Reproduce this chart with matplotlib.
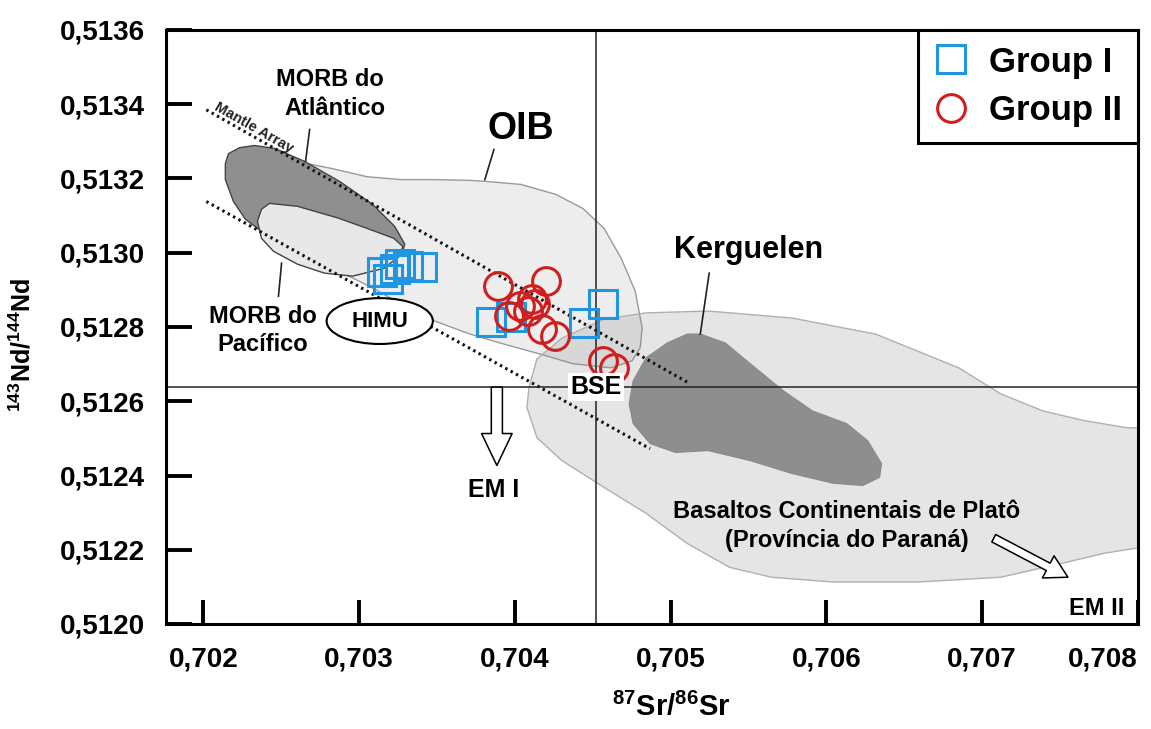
import matplotlib
matplotlib.use('Agg')
import matplotlib.pyplot as plt
from matplotlib.patches import Polygon, Ellipse
from matplotlib.lines import Line2D
from matplotlib.ticker import FixedLocator, FuncFormatter

plt.rcParams['font.family'] = ['Liberation Sans', 'DejaVu Sans']
plt.rcParams['font.weight'] = 'bold'
plt.rcParams['mathtext.fontset'] = 'custom'
plt.rcParams['mathtext.rm'] = 'Liberation Sans:bold'
plt.rcParams['mathtext.bf'] = 'Liberation Sans:bold'
plt.rcParams['mathtext.it'] = 'Liberation Sans:bold'

# ---------------- data ----------------
group1_sr = [0.703145, 0.703183, 0.703228, 0.703260, 0.703312, 0.703402,
             0.703846, 0.703974, 0.704444, 0.704566]
group1_nd = [0.512948, 0.512929, 0.512956, 0.512969, 0.512964, 0.512961,
             0.512813, 0.512827, 0.512811, 0.512862]

group2_sr = [0.703891, 0.704199, 0.703961, 0.704032, 0.704109, 0.704129,
             0.704084, 0.704174, 0.704257, 0.704566, 0.704637]
group2_nd = [0.512910, 0.512923, 0.512830, 0.512856, 0.512875, 0.512862,
             0.512843, 0.512795, 0.512776, 0.512709, 0.512690]

bse_sr = 0.70452
bse_nd = 0.512638

x_ticks = [0.702, 0.703, 0.704, 0.705, 0.706, 0.707, 0.708]
y_ticks = [0.5120, 0.5122, 0.5124, 0.5126, 0.5128, 0.5130, 0.5132, 0.5134, 0.5136]

# field outlines (Sr, Nd)
oib_sr = [0.702669, 0.702823, 0.703048, 0.703267, 0.703486, 0.703711, 0.703820,
          0.704039, 0.704264, 0.704437, 0.704572, 0.704682, 0.704772, 0.704817,
          0.704804, 0.704752, 0.704617, 0.704373, 0.704154, 0.703929, 0.703711,
          0.703486, 0.703267, 0.703087, 0.702958, 0.702746, 0.702617, 0.702605]
oib_nd = [0.513240, 0.513227, 0.513205, 0.513197, 0.513197, 0.513195, 0.513192,
          0.513184, 0.513157, 0.513119, 0.513066, 0.512985, 0.512897, 0.512797,
          0.512744, 0.512709, 0.512690, 0.512701, 0.512728, 0.512754, 0.512781,
          0.512816, 0.512862, 0.512905, 0.512932, 0.512972, 0.513058, 0.513192]

cfb_sr = [0.704141, 0.704302, 0.704572, 0.704842, 0.705241, 0.705781, 0.706315,
          0.706849, 0.707119, 0.707389, 0.707653, 0.707923, 0.708148, 0.708148,
          0.708032, 0.707788, 0.707518, 0.707119, 0.706585, 0.706045, 0.705646,
          0.705376, 0.705106, 0.704842, 0.704572, 0.704302, 0.704141, 0.704077,
          0.704090]
cfb_nd = [0.512714, 0.512770, 0.512821, 0.512838, 0.512843, 0.512824, 0.512781,
          0.512690, 0.512620, 0.512574, 0.512548, 0.512529, 0.512526, 0.512212,
          0.512207, 0.512191, 0.512164, 0.512126, 0.512113, 0.512113, 0.512126,
          0.512153, 0.512217, 0.512298, 0.512368, 0.512440, 0.512502, 0.512583,
          0.512636]

kerg_sr = [0.705190, 0.705351, 0.705511, 0.705724, 0.705910, 0.706129, 0.706264,
           0.706354, 0.706341, 0.706232, 0.706045, 0.705781, 0.705511, 0.705241,
           0.705029, 0.704868, 0.704759, 0.704733, 0.704759, 0.704842, 0.704978,
           0.705106]
kerg_nd = [0.512781, 0.512757, 0.512701, 0.512628, 0.512574, 0.512540, 0.512494,
           0.512432, 0.512395, 0.512373, 0.512379, 0.512405, 0.512440, 0.512467,
           0.512462, 0.512486, 0.512540, 0.512593, 0.512655, 0.512717, 0.512757,
           0.512781]

morb_atl_sr = [0.702161, 0.702232, 0.702328, 0.702457, 0.702650, 0.702875, 0.703087,
               0.703228, 0.703293, 0.703280, 0.703164, 0.702958, 0.702746, 0.702553,
               0.702373, 0.702270, 0.702193, 0.702141, 0.702141]
morb_atl_nd = [0.513267, 0.513283, 0.513289, 0.513281, 0.513246, 0.513192, 0.513130,
               0.513071, 0.513023, 0.513004, 0.513004, 0.513023, 0.513039, 0.513050,
               0.513058, 0.513090, 0.513138, 0.513197, 0.513240]

morb_pac_sr = [0.702347, 0.702373, 0.702424, 0.702605, 0.702868, 0.703048, 0.703222,
               0.703280, 0.703260, 0.703158, 0.702958, 0.702778, 0.702605, 0.702450,
               0.702373]
morb_pac_nd = [0.513085, 0.513117, 0.513133, 0.513125, 0.513093, 0.513066, 0.513039,
               0.513017, 0.512991, 0.512958, 0.512937, 0.512945, 0.512969, 0.513004,
               0.513039]

mantle_upper_sr = [0.702019, 0.705125]
mantle_upper_nd = [0.513385, 0.512647]
mantle_lower_sr = [0.702019, 0.704868]
mantle_lower_nd = [0.513138, 0.512472]

# ---------------- figure ----------------
fig = plt.figure(figsize=(11.51, 7.29), dpi=100)
ax = fig.add_axes([166/1151, (729-624)/729, (1138-166)/1151, (624-30)/729])
ax.set_xlim(0.70176, 0.708)
ax.set_ylim(0.5120, 0.5136)

blue = '#1E96E2'
red = '#D01E1E'

# fields
ax.add_patch(Polygon(list(zip(oib_sr, oib_nd)), closed=True,
                     fc=(0.5, 0.5, 0.5, 0.14), ec='#9a9a9a', lw=1.0, zorder=1))
ax.add_patch(Polygon(list(zip(cfb_sr, cfb_nd)), closed=True,
                     fc=(0.5, 0.5, 0.5, 0.20), ec='#b0b0b0', lw=1.0, zorder=1.1))
ax.add_patch(Polygon(list(zip(kerg_sr, kerg_nd)), closed=True,
                     fc='#8e8e8e', ec='#8a8a8a', lw=0.8, zorder=1.2))
ax.add_patch(Polygon(list(zip(morb_atl_sr, morb_atl_nd)), closed=True,
                     fc='#8f8f8f', ec='#444444', lw=1.0, zorder=1.3))
ax.add_patch(Polygon(list(zip(morb_pac_sr, morb_pac_nd)), closed=True,
                     fc='#e8e8e8', ec='#444444', lw=1.0, zorder=1.4))

# mantle array
ax.plot(mantle_upper_sr, mantle_upper_nd, color='#111111', lw=2.2,
        ls=(0, (0.8, 1.2)), zorder=2)
ax.plot(mantle_lower_sr, mantle_lower_nd, color='#111111', lw=2.2,
        ls=(0, (0.8, 1.2)), zorder=2)
ax.text(0.702325, 0.513336, 'Mantle Array', fontsize=10.5, rotation=-29.7,
        ha='center', va='center', color='#222222', zorder=3,
        rotation_mode='anchor')

# BSE reference lines
ax.axvline(bse_sr, color='#222222', lw=1.1, zorder=2.5)
ax.axhline(bse_nd, color='#222222', lw=1.1, zorder=2.5)

# leader lines
ax.plot([0.702682, 0.702656], [0.513332, 0.513246], color='#222222', lw=1.2, zorder=3)
ax.plot([0.703865, 0.703807], [0.513278, 0.513197], color='#222222', lw=1.2, zorder=3)
ax.plot([0.702502, 0.702482], [0.512972, 0.512883], color='#222222', lw=1.2, zorder=3)
ax.plot([0.705247, 0.705190], [0.512945, 0.512781], color='#222222', lw=1.2, zorder=3)

# HIMU
ax.add_patch(Ellipse((0.703132, 0.512816), 0.000682, 0.0001235, fc='white',
                     ec='black', lw=1.5, zorder=3))
ax.text(0.703132, 0.512816, 'HIMU', fontsize=16, ha='center', va='center', zorder=4)

# labels
ax.text(0.702810, 0.513468, 'MORB do', fontsize=17, ha='center', va='center')
ax.text(0.702842, 0.513388, 'Atlântico', fontsize=17, ha='center', va='center')
ax.text(0.704039, 0.513334, 'OIB', fontsize=27, ha='center', va='center')
ax.text(0.705498, 0.513007, 'Kerguelen', fontsize=22, ha='center', va='center')
ax.text(0.702379, 0.512827, 'MORB do', fontsize=17, ha='center', va='center')
ax.text(0.702379, 0.512754, 'Pacífico', fontsize=17, ha='center', va='center')
ax.text(bse_sr, bse_nd, 'BSE', fontsize=18, ha='center', va='center', zorder=6,
        bbox=dict(fc='white', ec='none', pad=1.5))
ax.text(0.703865, 0.512360, 'EM I', fontsize=18, ha='center', va='center')
ax.text(0.707736, 0.512043, 'EM II', fontsize=17, ha='center', va='center')
ax.text(0.706129, 0.512303, 'Basaltos Continentais de Platô', fontsize=17,
        ha='center', va='center', zorder=4)
ax.text(0.706129, 0.512226, '(Província do Paraná)', fontsize=17,
        ha='center', va='center', zorder=4)

# arrows
ax.annotate('', xy=(0.703884, 0.512427), xytext=(0.703884, bse_nd),
            arrowprops=dict(arrowstyle='simple,head_length=1.15,head_width=1.1,tail_width=0.4',
                            fc='white', ec='black', lw=1.1, mutation_scale=20,
                            shrinkA=0, shrinkB=0), zorder=4)
ax.annotate('', xy=(0.707550, 0.512126), xytext=(0.707074, 0.512231),
            arrowprops=dict(arrowstyle='simple,head_length=0.8,head_width=0.9,tail_width=0.3',
                            fc='white', ec='black', lw=1.1, mutation_scale=20,
                            shrinkA=0, shrinkB=0), zorder=4)

# data points
ax.plot(group1_sr, group1_nd, ls='', marker='s', ms=20, mfc='none', mec=blue,
        mew=2.2, zorder=5)
ax.plot(group2_sr, group2_nd, ls='', marker='o', ms=20, mfc='none', mec=red,
        mew=2.2, zorder=5.1)

# axes styling
for s in ax.spines.values():
    s.set_linewidth(2.2)
ax.xaxis.set_major_locator(FixedLocator(x_ticks))
ax.yaxis.set_major_locator(FixedLocator(y_ticks))
ax.xaxis.set_major_formatter(FuncFormatter(lambda v, p: f'{v:.3f}'.replace('.', ',')))
ax.yaxis.set_major_formatter(FuncFormatter(lambda v, p: f'{v:.4f}'.replace('.', ',')))
ax.tick_params(axis='x', direction='in', length=17, width=2.8, labelsize=20, pad=16)
ax.tick_params(axis='y', direction='in', length=19, width=2.8, labelsize=20, pad=15)
for lab in ax.get_xticklabels() + ax.get_yticklabels():
    lab.set_fontweight('bold')
xl = ax.get_xticklabels()
xl[-1].set_ha('right')

ax.set_xlabel(r'$\mathbf{{}^{87}Sr/{}^{86}Sr}$', fontsize=21)
ax.set_ylabel(r'$\mathbf{{}^{143}Nd/{}^{144}Nd}$', fontsize=18)
ax.xaxis.set_label_coords(0.52, -0.115)
ax.yaxis.set_label_coords(-0.134, 0.47)

# legend
h1 = Line2D([], [], ls='', marker='s', ms=20, mfc='none', mec=blue, mew=2.2)
h2 = Line2D([], [], ls='', marker='o', ms=20, mfc='none', mec=red, mew=2.2)
leg = ax.legend([h1, h2], ['Group I', 'Group II'], loc='upper right',
                borderaxespad=0, fancybox=False, edgecolor='black', framealpha=1,
                prop={'size': 25, 'weight': 'bold'}, handlelength=1.0,
                handletextpad=0.6, borderpad=0.45, labelspacing=0.45)
leg.get_frame().set_linewidth(2.2)
leg.set_zorder(10)

fig.savefig('out.png', dpi=100)
